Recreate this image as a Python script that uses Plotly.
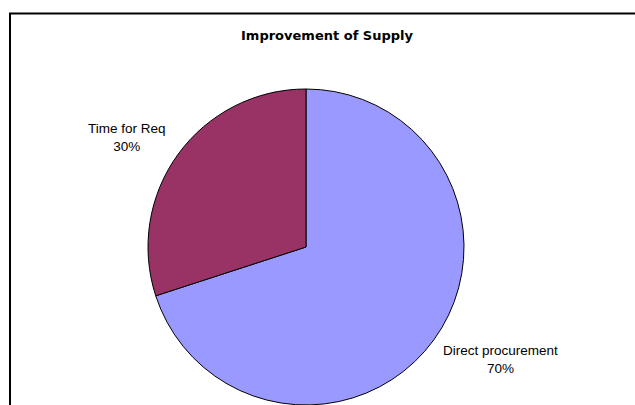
import plotly.graph_objects as go

# Share of supply improvement by source
categories = ["Direct procurement", "Time for Req"]
shares = [70, 30]
slice_colors = ["#9999FF", "#993366"]

W, H = 635, 405
total = sum(shares)

fig = go.Figure(
    go.Pie(
        labels=categories,
        values=shares,
        sort=False,
        direction="clockwise",
        rotation=0,
        textinfo="none",
        hoverinfo="label+percent",
        marker=dict(colors=slice_colors, line=dict(color="#000000", width=1)),
        domain=dict(x=[148 / W, 464 / W], y=[0, 316 / H]),
        showlegend=False,
    )
)

# Category labels with their percentage, placed beside each slice
label_pos = {"Direct procurement": (500 / W, 1 - 359 / H), "Time for Req": (127 / W, 1 - 137 / H)}
for name, v in zip(categories, shares):
    x, y = label_pos[name]
    fig.add_annotation(
        x=x, y=y, xref="paper", yref="paper",
        xanchor="center", yanchor="middle",
        text=f"{name}<br>{round(100 * v / total)}%",
        showarrow=False,
        font=dict(family="Liberation Sans, Arial, sans-serif", size=13.5, color="#000000"),
        align="center",
    )

# Chart area frame
fig.add_shape(
    type="rect", xref="paper", yref="paper",
    x0=10 / W, x1=1.05, y0=-0.05, y1=1 - 13.5 / H,
    line=dict(color="#000000", width=2), fillcolor="rgba(0,0,0,0)",
    layer="below",
)

fig.update_layout(
    width=W, height=H,
    margin=dict(l=0, r=0, t=0, b=0),
    paper_bgcolor="#FFFFFF",
    plot_bgcolor="#FFFFFF",
    title=dict(
        text="<b>Improvement of Supply</b>",
        x=327 / W, xanchor="center",
        y=1 - 35 / H, yanchor="middle",
        font=dict(family="DejaVu Sans, sans-serif", size=13, color="#000000"),
    ),
)

fig.write_html("out.html")
